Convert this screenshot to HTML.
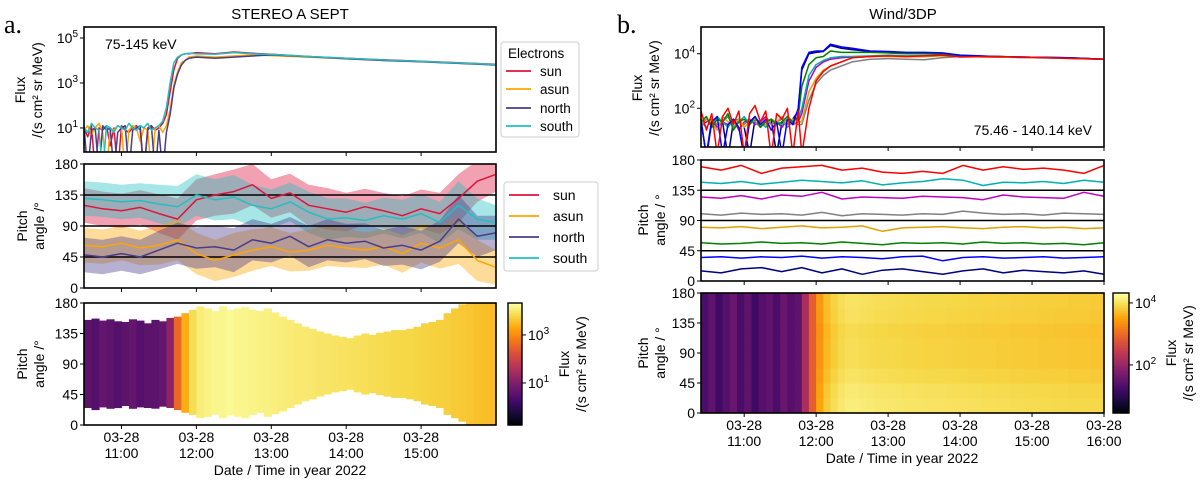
<!DOCTYPE html>
<html><head><meta charset="utf-8"><style>
html,body{margin:0;padding:0;background:#fff;}
svg{display:block;font-family:"Liberation Sans",sans-serif;}
</style></head><body>
<svg id="fig" width="1200" height="486" viewBox="0 0 1200 486" xmlns="http://www.w3.org/2000/svg">
<g id="layer"></g>
<text x="4" y="33" font-family="Liberation Serif,serif" font-size="26">a.</text>
<text x="617" y="33" font-family="Liberation Serif,serif" font-size="26">b.</text>
<text x="290" y="19" font-size="15" text-anchor="middle">STEREO A SEPT</text>
<text x="903" y="19" font-size="15" text-anchor="middle">Wind/3DP</text>
</svg>
<script>
// ---------------- DATA ----------------
const tA=[10.5,10.55,10.6,10.65,10.7,10.75,10.8,10.85,10.9,10.95,11.0,11.05,11.1,11.15,11.2,11.25,11.3,11.35,11.4,11.45,11.5,11.55,11.6,11.65,11.7,11.75,11.8,11.85,11.9,12.0,12.25,12.5,12.75,13.0,13.5,14.0,14.5,15.0,15.5,16.0];
const sunA=[1.0,0.6,1.1,-1,1.0,0.9,1.1,0.2,1.0,-1,1.1,0.9,0.8,1.0,1.1,0.9,-1,1.0,1.1,0.9,1.0,1.2,1.6,2.6,3.6,4.1,4.25,4.3,4.3,4.35,4.3,4.38,4.32,4.28,4.18,4.1,4.03,3.97,3.9,3.83];
const asunA=[0.9,1.1,0.7,1.0,1.2,0.8,-1,1.0,0.9,1.1,1.0,-1,0.9,1.1,1.0,0.4,1.0,0.9,-1,1.0,1.1,0.8,1.1,1.8,2.9,3.5,3.9,4.0,4.15,4.2,4.15,4.2,4.25,4.22,4.15,4.08,4.0,3.95,3.88,3.82];
const northA=[1.1,-1,0.9,1.0,-1,1.1,0.9,1.0,-1,0.8,1.0,1.1,-1,0.9,1.0,1.1,-1,0.9,1.1,-1,0.9,-1,0.8,1.6,2.8,3.4,3.8,4.0,4.1,4.15,4.1,4.15,4.2,4.25,4.17,4.08,4.0,3.94,3.87,3.8];
const southA=[1.0,0.8,1.2,1.0,0.9,-1,1.1,1.0,0.8,1.1,1.0,0.9,1.2,1.0,0.9,1.1,1.0,1.2,0.9,1.0,1.1,1.3,1.9,3.0,3.9,4.15,4.25,4.3,4.32,4.3,4.28,4.35,4.3,4.27,4.18,4.1,4.02,3.96,3.89,3.82];

const tM=[10.5,10.75,11.0,11.25,11.5,11.75,12.0,12.25,12.5,12.75,13.0,13.25,13.5,13.75,14.0,14.25,14.5,14.75,15.0,15.25,15.5,15.75,16.0];
const sunP=[120,115,112,117,108,100,128,135,140,150,130,138,120,115,110,118,112,105,115,108,130,155,165];
const asunP=[62,60,65,58,62,70,50,40,48,55,60,52,55,62,58,55,60,50,65,58,70,40,30];
const northP=[48,45,50,45,55,65,58,60,55,70,65,75,60,70,65,68,58,62,55,68,100,75,80];
const southP=[130,128,125,127,122,118,135,128,132,120,115,125,110,100,102,98,105,100,108,95,120,100,95];
const spreadP=[25,25,25,25,28,30,30,30,32,30,28,28,30,30,28,26,26,28,28,30,35,30,25];

const tHL=[10.5,10.6,10.7,10.8,10.9,11.0,11.1,11.2,11.3,11.4,11.5,11.6,11.7,11.8,11.9,12.0,12.1,12.2,12.3,12.4,12.5,12.6,12.7,12.8,12.9,13.0,13.1,13.2,13.3,13.4,13.5,13.6,13.7,13.8,13.9,14.0,14.1,14.2,14.3,14.4,14.5,14.6,14.7,14.8,14.9,15.0,15.1,15.2,15.3,15.4,15.5,15.6,15.7,15.8,15.9];
const fluxHL=[0.6,0.5,0.7,0.6,0.5,0.6,0.7,0.5,0.6,0.6,0.7,1.2,2.6,3.4,3.9,4.1,4.15,4.2,4.2,4.25,4.2,4.2,4.18,4.15,4.15,4.12,4.1,4.08,4.05,4.05,4.02,4.0,4.0,3.98,3.96,3.95,3.93,3.92,3.9,3.88,3.87,3.85,3.83,3.82,3.8,3.78,3.76,3.75,3.73,3.7,3.68,3.65,3.6,3.58,3.55];
const loHL=[25,22,26,24,25,28,24,26,25,24,27,25,22,18,15,10,12,15,10,14,12,10,15,18,12,16,20,25,30,35,38,42,45,48,50,52,48,45,47,44,42,40,40,38,35,30,28,25,15,10,5,0,0,0,0];
const hiHL=[155,157,154,156,153,152,156,154,150,155,153,158,160,165,170,175,172,168,175,170,172,174,170,168,172,166,160,155,150,145,142,138,135,132,130,128,132,135,133,136,138,140,140,142,145,150,152,155,165,172,178,180,180,180,180];

const tR=[10.4,10.475,10.55,10.625,10.7,10.775,10.85,10.925,11.0,11.075,11.15,11.225,11.3,11.375,11.45,11.525,11.6,11.675,11.75,11.8,11.9,12.0,12.1,12.2,12.35,12.5,12.75,13.0,13.25,13.5,13.75,14.0,14.5,15.0,15.5,16.0];
const navyR=[1.5,0.3,1.6,1.4,1.5,0.2,1.5,1.6,1.3,0.3,1.6,1.5,1.4,1.6,0.3,1.5,1.4,1.6,1.9,3.4,4.0,4.05,4.08,4.3,4.2,4.15,4.08,4.05,4.03,4.03,4.0,3.93,3.9,3.87,3.85,3.8];
const magentaR=[1.4,1.5,1.6,1.3,1.5,1.4,1.6,1.2,1.5,1.6,1.4,1.5,1.7,1.4,1.5,1.3,1.6,1.4,1.5,1.8,3.0,3.5,3.7,3.8,3.85,3.88,3.9,3.92,3.9,3.9,3.93,3.9,3.88,3.86,3.84,3.8];
const cyanR=[1.5,1.6,1.4,1.7,1.5,1.3,1.6,1.5,1.7,1.4,1.6,1.5,1.3,1.6,1.5,1.4,1.6,1.5,1.6,2.0,3.2,3.6,3.75,3.85,3.9,3.9,3.92,3.95,3.92,3.93,3.95,3.9,3.88,3.86,3.84,3.8];
const grayR=[1.5,1.3,1.6,1.4,1.5,1.7,1.3,1.5,1.4,1.6,1.5,1.3,1.6,1.4,1.5,1.6,1.3,1.5,1.4,1.4,2.3,2.9,3.2,3.4,3.55,3.7,3.8,3.82,3.8,3.78,3.85,3.9,3.88,3.85,3.83,3.8];
const orangeR=[1.4,1.6,1.5,1.2,1.7,1.5,1.4,1.6,1.3,1.5,1.6,1.5,1.4,1.6,1.5,1.7,1.4,1.6,1.5,1.5,2.6,3.1,3.4,3.55,3.7,3.85,3.9,3.9,3.88,3.9,3.92,3.9,3.88,3.86,3.84,3.8];
const greenR=[1.5,1.7,1.3,1.6,1.5,1.8,1.2,1.5,1.6,1.4,1.7,1.3,1.5,1.6,1.4,1.5,1.7,1.5,1.7,2.8,3.6,3.85,3.9,4.1,4.05,4.05,4.05,4.03,4.0,4.0,4.0,3.92,3.9,3.87,3.85,3.8];
const blueR=[1.6,0.2,1.5,1.7,0.3,1.4,1.6,1.3,0.2,1.5,1.7,1.4,1.6,1.2,1.5,0.3,1.6,1.4,2.0,3.5,4.05,4.1,4.1,4.35,4.25,4.2,4.1,4.08,4.05,4.05,4.03,3.95,3.9,3.87,3.85,3.8];
const redR=[1.9,1.2,1.8,0.3,1.7,2.0,1.4,1.9,0.3,1.8,2.1,1.5,1.9,0.2,1.8,1.6,2.0,0.3,1.9,0.3,2.0,3.0,3.35,3.55,3.7,3.85,3.9,3.92,3.9,3.92,3.95,3.88,3.9,3.87,3.83,3.8];

const tRP=[10.4,10.68,10.96,11.24,11.52,11.8,12.08,12.36,12.64,12.92,13.2,13.48,13.76,14.04,14.32,14.6,14.88,15.16,15.44,15.72,16.0];
const redRP=[170,165,172,160,168,170,172,165,168,162,160,163,160,172,165,170,166,168,165,160,172];
const cyanRP=[147,145,148,144,147,150,148,146,149,143,146,148,152,150,142,147,146,148,145,150,147];
const magentaRP=[125,123,127,122,128,126,132,122,125,124,123,126,125,124,121,128,125,124,123,132,126];
const grayRP=[100,98,101,99,100,98,102,97,100,99,98,100,99,104,101,99,100,98,101,100,99];
const orangeRP=[80,79,81,78,80,82,79,80,82,74,79,80,81,79,78,80,81,79,80,78,79];
const greenRP=[57,55,56,58,56,57,55,58,56,54,57,56,57,55,58,56,57,55,56,54,57];
const blueRP=[35,36,34,36,35,37,34,36,35,33,36,37,30,35,36,34,35,36,34,35,36];
const navyRP=[15,12,18,20,14,20,12,18,10,16,18,14,10,15,18,12,16,14,12,15,10];

const tHR=[10.4,10.5,10.6,10.7,10.8,10.9,11.0,11.1,11.2,11.3,11.4,11.5,11.6,11.7,11.8,11.9,12.0,12.1,12.2,12.3,12.4,12.5,12.6,12.7,12.8,12.9,13.0,13.1,13.2,13.3,13.4,13.5,13.6,13.7,13.8,13.9,14.0,14.1,14.2,14.3,14.4,14.5,14.6,14.7,14.8,14.9,15.0,15.1,15.2,15.3,15.4,15.5,15.6,15.7,15.8,15.9];
const fluxHR=[1.3,1.5,1.2,1.4,1.6,1.3,1.5,1.2,1.4,1.5,1.3,1.6,1.4,1.5,2.2,2.9,3.4,3.7,3.85,3.95,4.0,4.0,3.98,3.97,3.95,3.95,3.94,3.93,3.92,3.92,3.91,3.9,3.9,3.9,3.89,3.88,3.88,3.87,3.87,3.86,3.86,3.85,3.85,3.84,3.84,3.83,3.83,3.82,3.82,3.81,3.81,3.8,3.8,3.8,3.79,3.79];
const binOffHR=[0.15,0.12,0.05,0,0,-0.02,0.03,0.05];

const ticksL=[11,12,13,14,15];
const ticksR=[11,12,13,14,15,16];
const tickTimes=["11:00","12:00","13:00","14:00","15:00","16:00"];

// ---------------- HELPERS ----------------
const NS='http://www.w3.org/2000/svg';
const layer=document.getElementById('layer');
function el(tag,attrs,parent){const e=document.createElementNS(NS,tag);for(const k in attrs)e.setAttribute(k,attrs[k]);(parent||layer).appendChild(e);return e;}
function txt(x,y,s,attrs,parent){const e=el('text',Object.assign({x:x,y:y},attrs||{}),parent);e.textContent=s;return e;}
const infStops=[[0,0,0,4],[.1,22,11,57],[.2,66,10,104],[.3,106,23,110],[.4,147,38,103],[.5,188,55,84],[.6,221,81,58],[.7,243,120,25],[.8,252,165,10],[.9,246,215,70],[1,252,255,164]];
function inferno(t){t=Math.max(0,Math.min(1,t));for(let i=1;i<infStops.length;i++){if(t<=infStops[i][0]){const a=infStops[i-1],b=infStops[i],f=(t-a[0])/(b[0]-a[0]);return 'rgb('+[1,2,3].map(j=>Math.round(a[j]+f*(b[j]-a[j]))).join(',')+')';}}return 'rgb(252,255,164)';}
function lin(d0,d1,r0,r1){return v=>r0+(v-d0)/(d1-d0)*(r1-r0);}

const L={x0:84,x1:496,t0:10.5,t1:16.0};
const R={x0:701,x1:1104,t0:10.4,t1:16.0};
L.x=lin(L.t0,L.t1,L.x0,L.x1); R.x=lin(R.t0,R.t1,R.x0,R.x1);
const LT={y0:27,y1:152,lo:-0.07,hi:5.49}; LT.y=lin(LT.lo,LT.hi,LT.y1,LT.y0);
const LM={y0:164,y1:288}; LM.y=lin(0,180,LM.y1,LM.y0);
const LB={y0:303,y1:425}; LB.y=lin(0,180,LB.y1,LB.y0);
const RT={y0:27,y1:147,lo:0.58,hi:4.98}; RT.y=lin(RT.lo,RT.hi,RT.y1,RT.y0);
const RM={y0:160,y1:281}; RM.y=lin(0,180,RM.y1,RM.y0);
const RB={y0:293,y1:413}; RB.y=lin(0,180,RB.y1,RB.y0);
const cL={lo:-0.75,hi:4.33}, cR={lo:0.45,hi:4.32};

function clip(id,x0,y0,x1,y1){const d=el('clipPath',{id:id});el('rect',{x:x0,y:y0,width:x1-x0,height:y1-y0},d);return 'url(#'+id+')';}
function frame(x0,y0,x1,y1){const r=el('rect',{x:x0,y:y0,width:x1-x0,height:y1-y0,fill:'none',stroke:'#000','stroke-width':1.6});return r;}
function line(ts,vs,X,Y,color,clipUrl,w){const p=ts.map((t,i)=>X(t).toFixed(1)+','+Y(vs[i]).toFixed(1)).join(' ');return el('polyline',{points:p,fill:'none',stroke:color,'stroke-width':w||1.4,'clip-path':clipUrl,'stroke-linejoin':'round'});}
function xticks(P,Y1,ticks){ticks.forEach((t,i)=>{const tk=el('line',{x1:P.x(t),x2:P.x(t),y1:Y1,y2:Y1+4,stroke:'#000','stroke-width':1});});}
function yticks(x0,vals,Y,labels,panelName){vals.forEach((v,i)=>{el('line',{x1:x0-4,x2:x0,y1:Y(v),y2:Y(v),stroke:'#000','stroke-width':1});const t=txt(x0-6,Y(v)+5,labels[i],{'font-size':14,'text-anchor':'end'});});}
function logLabel(x0,v,Y,e,panelName){const t=el('text',{x:x0-6,y:Y(v)+5,'font-size':14,'text-anchor':'end'});t.textContent='10';const s=el('tspan',{dy:-6,'font-size':10},t);s.textContent=e;el('line',{x1:x0-4,x2:x0,y1:Y(v),y2:Y(v),stroke:'#000','stroke-width':1});}
function ylabel(cx,cy,l1,l2,name){const g=el('g',{transform:'translate('+cx+','+cy+') rotate(-90)'});txt(0,-4,l1,{'font-size':14,'text-anchor':'middle'},g);txt(0,13,l2,{'font-size':14,'text-anchor':'middle'},g);}

// ---------------- LEFT TOP ----------------
const cLT=clip('cLT',L.x0,LT.y0,L.x1,LT.y1);
const colA={sun:'#dc143c',asun:'#ffa500',north:'#483d8b',south:'#20c0c0'};
[['sun',sunA],['asun',asunA],['north',northA],['south',southA]].forEach(([n,v])=>{const p=line(tA,v,L.x,LT.y,colA[n],cLT,1.5);});
frame(L.x0,LT.y0,L.x1,LT.y1);
logLabel(L.x0,5,LT.y,'5','stereo-flux');logLabel(L.x0,3,LT.y,'3','stereo-flux');logLabel(L.x0,1,LT.y,'1','stereo-flux');
xticks(L,LT.y1,ticksL);
const eLab=txt(105,49,'75-145 keV',{'font-size':14});
ylabel(29,90,'Flux','/(s cm² sr MeV)','stereo-flux-y-label');
const lg1=el('g',{});
el('rect',{x:501,y:42,width:78,height:95,rx:3,fill:'#fff',stroke:'#ccc'},lg1);
txt(508,58,'Electrons',{'font-size':13.5},lg1);
[['sun',71],['asun',89],['north',108],['south',126]].forEach(([n,y])=>{const g=el('g',{},lg1);el('line',{x1:506,x2:531,y1:y,y2:y,stroke:colA[n],'stroke-width':1.8},g);txt(540,y+5,n,{'font-size':13.5},g);});

// ---------------- LEFT MIDDLE ----------------
const cLM=clip('cLM',L.x0,LM.y0,L.x1,LM.y1);
[['sun',sunP],['south',southP],['asun',asunP],['north',northP]].forEach(([n,v])=>{const up=tM.map((t,i)=>L.x(t).toFixed(1)+','+LM.y(v[i]+spreadP[i]).toFixed(1));const dn=tM.map((t,i)=>L.x(t).toFixed(1)+','+LM.y(v[i]-spreadP[i]).toFixed(1)).reverse();const b=el('polygon',{points:up.concat(dn).join(' '),fill:colA[n],'fill-opacity':0.4,'clip-path':cLM});});
[45,90,135].forEach(v=>{const h=el('line',{x1:L.x0,x2:L.x1,y1:LM.y(v),y2:LM.y(v),stroke:'#000','stroke-width':1.5});});
[['sun',sunP],['asun',asunP],['north',northP],['south',southP]].forEach(([n,v])=>{const p=line(tM,v,L.x,LM.y,colA[n],cLM,1.5);});
frame(L.x0,LM.y0,L.x1,LM.y1);
yticks(L.x0,[0,45,90,135,180],LM.y,['0','45','90','135','180'],'stereo-pitch');
xticks(L,LM.y1,ticksL);
ylabel(31,226,'Pitch','angle /°','stereo-pitch-y-label');
const lg2=el('g',{});
el('rect',{x:504,y:182,width:94,height:89,rx:3,fill:'#fff',stroke:'#ccc'},lg2);
[['sun',195],['asun',216],['north',237],['south',258]].forEach(([n,y])=>{const g=el('g',{},lg2);el('line',{x1:509,x2:539,y1:y,y2:y,stroke:colA[n],'stroke-width':1.8},g);txt(553,y+5,n,{'font-size':14},g);});

// ---------------- LEFT BOTTOM ----------------
const cLB=clip('cLB',L.x0,LB.y0,L.x1,LB.y1);
const dxL=L.x(10.6)-L.x(10.5);
tHL.forEach((t,i)=>{const r=el('rect',{x:L.x(t).toFixed(1),y:LB.y(hiHL[i]).toFixed(1),width:(dxL+0.6).toFixed(1),height:(LB.y(loHL[i])-LB.y(hiHL[i])).toFixed(1),fill:inferno((fluxHL[i]-cL.lo)/(cL.hi-cL.lo)),'clip-path':cLB});});
frame(L.x0,LB.y0,L.x1,LB.y1);
yticks(L.x0,[0,45,90,135,180],LB.y,['0','45','90','135','180'],'stereo-heatmap');
xticks(L,LB.y1,ticksL);
ylabel(31,364,'Pitch','angle /°','stereo-heatmap-y-label');
ticksL.forEach((t,i)=>{const a=txt(L.x(t),442,'03-28',{'font-size':14,'text-anchor':'middle'});const b=txt(L.x(t),458,tickTimes[i],{'font-size':14,'text-anchor':'middle'});});
const xl1=txt(290,475,'Date / Time in year 2022',{'font-size':14,'text-anchor':'middle'});
function colorbar(x0,x1,y0,y1,c,labs,name){const g=el('g',{});const n=60;for(let k=0;k<n;k++){el('rect',{x:x0,y:(y0+(y1-y0)*k/n).toFixed(2),width:x1-x0,height:((y1-y0)/n+0.6).toFixed(2),fill:inferno(1-k/n)},g);}el('rect',{x:x0,y:y0,width:x1-x0,height:y1-y0,fill:'none',stroke:'#000','stroke-width':1.4},g);const Y=lin(c.lo,c.hi,y1,y0);labs.forEach(e=>{el('line',{x1:x1,x2:x1+4,y1:Y(e),y2:Y(e),stroke:'#000'},g);const t=txt(x1+6,Y(e)+5,'10',{'font-size':14},g);const s=el('tspan',{dy:-6,'font-size':10},t);s.textContent=e;});}
colorbar(508,522,LB.y0,LB.y1,cL,[1,3],'stereo-colorbar');
const cbl1=el('g',{transform:'translate(569,364) rotate(-90)'});txt(0,0,'Flux',{'font-size':14,'text-anchor':'middle'},cbl1);txt(0,17,'/(s cm² sr MeV)',{'font-size':14,'text-anchor':'middle'},cbl1);

// ---------------- RIGHT TOP ----------------
const cRT=clip('cRT',R.x0,RT.y0,R.x1,RT.y1);
const colR={navy:'#000080',magenta:'#c000c0',cyan:'#00b0b0',gray:'#808080',orange:'#e0a000',green:'#008000',blue:'#0000ff',red:'#ff0000'};
[['navy',navyR],['magenta',magentaR],['cyan',cyanR],['gray',grayR],['orange',orangeR],['green',greenR],['blue',blueR],['red',redR]].forEach(([n,v])=>{const p=line(tR,v,R.x,RT.y,colR[n],cRT,1.5);});
frame(R.x0,RT.y0,R.x1,RT.y1);
logLabel(R.x0,4,RT.y,'4','wind-flux');logLabel(R.x0,2,RT.y,'2','wind-flux');
xticks(R,RT.y1,ticksR);
const eLab2=txt(1092,135,'75.46 - 140.14 keV',{'font-size':14,'text-anchor':'end'});
ylabel(646,88,'Flux','/(s cm² sr MeV)','wind-flux-y-label');

// ---------------- RIGHT MIDDLE ----------------
const cRM=clip('cRM',R.x0,RM.y0,R.x1,RM.y1);
[45,90,135].forEach(v=>{const h=el('line',{x1:R.x0,x2:R.x1,y1:RM.y(v),y2:RM.y(v),stroke:'#000','stroke-width':1.5});});
[['red',redRP],['cyan',cyanRP],['magenta',magentaRP],['gray',grayRP],['orange',orangeRP],['green',greenRP],['blue',blueRP],['navy',navyRP]].forEach(([n,v])=>{const p=line(tRP,v,R.x,RM.y,colR[n],cRM,1.5);});
frame(R.x0,RM.y0,R.x1,RM.y1);
yticks(R.x0,[0,45,90,135,180],RM.y,['0','45','90','135','180'],'wind-pitch');
xticks(R,RM.y1,ticksR);
ylabel(652,220,'Pitch','angle / °','wind-pitch-y-label');

// ---------------- RIGHT BOTTOM ----------------
const cRB=clip('cRB',R.x0,RB.y0,R.x1,RB.y1);
const dxR=R.x(10.5)-R.x(10.4);
tHR.forEach((t,i)=>{binOffHR.forEach((o,b)=>{const v=fluxHR[i]+(fluxHR[i]>3?o:0);const r=el('rect',{x:R.x(t).toFixed(1),y:RB.y((b+1)*22.5).toFixed(1),width:(dxR+0.6).toFixed(1),height:(RB.y(b*22.5)-RB.y((b+1)*22.5)+0.6).toFixed(1),fill:inferno((v-cR.lo)/(cR.hi-cR.lo)),'clip-path':cRB});});});
frame(R.x0,RB.y0,R.x1,RB.y1);
yticks(R.x0,[0,45,90,135,180],RB.y,['0','45','90','135','180'],'wind-heatmap');
xticks(R,RB.y1,ticksR);
ylabel(652,353,'Pitch','angle / °','wind-heatmap-y-label');
ticksR.forEach((t,i)=>{const a=txt(R.x(t),430,'03-28',{'font-size':14,'text-anchor':'middle'});const b=txt(R.x(t),446,tickTimes[i],{'font-size':14,'text-anchor':'middle'});});
const xl2=txt(902,463,'Date / Time in year 2022',{'font-size':14,'text-anchor':'middle'});
colorbar(1113,1129,RB.y0,RB.y1,cR,[2,4],'wind-colorbar');
const cbl2=el('g',{transform:'translate(1176,353) rotate(-90)'});txt(0,0,'Flux',{'font-size':14,'text-anchor':'middle'},cbl2);txt(0,17,'/(s cm² sr MeV)',{'font-size':14,'text-anchor':'middle'},cbl2);
</script>
</body></html>
